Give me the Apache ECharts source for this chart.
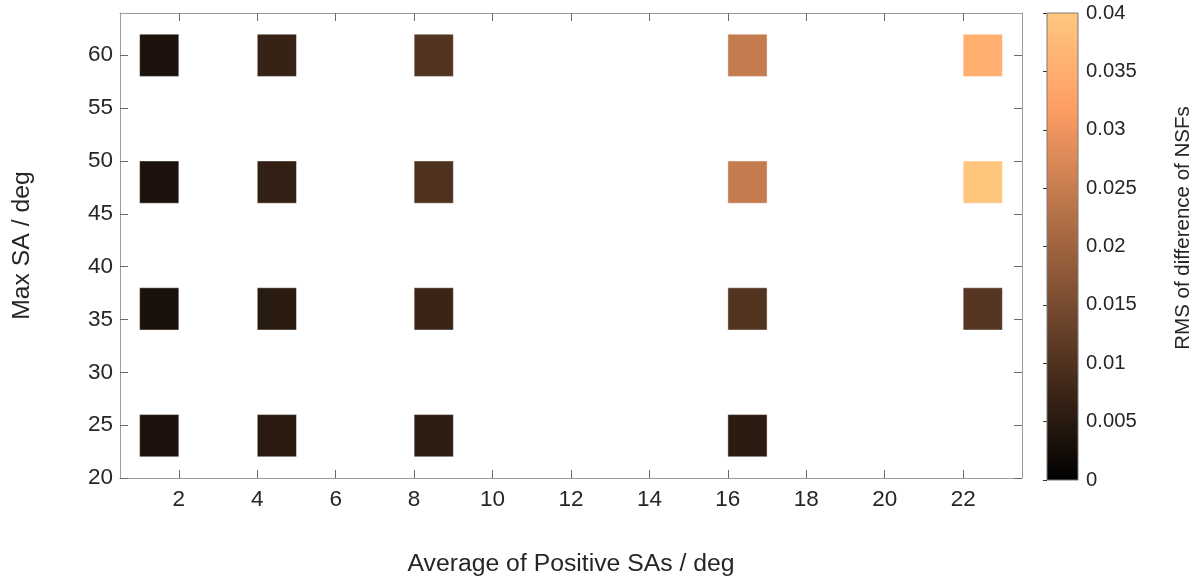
<!DOCTYPE html>
<html>
<head>
<meta charset="utf-8">
<title>RMS of difference of NSFs</title>
<script src="https://cdn.jsdelivr.net/npm/echarts@6/dist/echarts.min.js"></script>
<style>
  html, body { margin: 0; padding: 0; background: #ffffff; }
  #chart { width: 1197px; height: 582px; }
</style>
</head>
<body>
<div id="chart"></div>
<script>
// Average of positive SAs (left edge of each cell, deg)
const avgPositiveSA = [1, 4, 8, 16, 22];
// Max SA (centre of each cell, deg)
const maxSA = [24, 36, 48, 60];

// RMS of difference of NSFs, one row per Max SA value (null = no run)
const rmsAt24 = [0.0035, 0.0052, 0.0058, 0.0055, null];
const rmsAt36 = [0.0034, 0.0053, 0.0072, 0.0104, 0.0107];
const rmsAt48 = [0.0035, 0.0064, 0.0098, 0.0246, 0.0395];
const rmsAt60 = [0.0035, 0.0069, 0.0103, 0.0246, 0.0352];
const rmsRows = [rmsAt24, rmsAt36, rmsAt48, rmsAt60];

// Tick labels
const xTicks = [2, 4, 6, 8, 10, 12, 14, 16, 18, 20, 22];
const yTicks = [20, 25, 30, 35, 40, 45, 50, 55, 60];

// Copper colour map, evenly spaced stops from 0 to 1
const copperMap = ['#000000', '#402819', '#805033', '#BF784C', '#FF9F65', '#FFC77F'];
const colorMin = 0, colorMax = 0.04, colorStep = 0.005;

const cells = [];
maxSA.forEach((y, j) => {
  avgPositiveSA.forEach((x, i) => {
    const v = rmsRows[j][i];
    if (v !== null) cells.push([x, y, v]);
  });
});

const FONT = '"Liberation Sans", Arial, Helvetica, sans-serif';
const TEXT = '#262626';
const AXIS = '#9c9c9c';
const TICK = '#6a6a6a';

const chart = echarts.init(document.getElementById('chart'), null, { renderer: 'canvas' });

const cellWidth = 1;   // along x, deg
const cellHeight = 4;  // along y, deg

function renderCell(params, api) {
  const x = api.value(0), y = api.value(1);
  const a = api.coord([x, y - cellHeight / 2]);
  const b = api.coord([x + cellWidth, y + cellHeight / 2]);
  return {
    type: 'rect',
    shape: { x: a[0], y: b[1], width: b[0] - a[0], height: a[1] - b[1] },
    style: {
      fill: api.visual('color'),
      stroke: 'rgba(255,255,255,0.45)',
      lineWidth: 1
    }
  };
}

function renderColorbar(params, api) {
  const a = api.coord([0, colorMin]);
  const b = api.coord([1, colorMax]);
  return {
    type: 'rect',
    shape: { x: a[0], y: b[1], width: b[0] - a[0], height: a[1] - b[1] },
    style: {
      fill: {
        type: 'linear', x: 0, y: 1, x2: 0, y2: 0,
        colorStops: copperMap.map((c, i) => ({ offset: i / (copperMap.length - 1), color: c }))
      },
      stroke: '#7a7a7a',
      lineWidth: 1
    }
  };
}

const tickLabelStyle = { color: TEXT, fontFamily: FONT, fontSize: 22.5 };

chart.setOption({
  animation: false,
  backgroundColor: '#ffffff',
  grid: [
    { left: 120, top: 13, width: 902, height: 467, containLabel: false },
    { left: 1047, top: 13, width: 31, height: 467, containLabel: false }
  ],
  xAxis: [
    {
      type: 'value', gridIndex: 0, position: 'bottom', min: 0.5, max: 23.5,
      name: 'Average of Positive SAs / deg', nameLocation: 'middle', nameGap: 74,
      nameTextStyle: { color: TEXT, fontFamily: FONT, fontSize: 24.75 },
      axisLine: { show: true, onZero: false, lineStyle: { color: AXIS, width: 1 } },
      axisTick: { show: true, inside: true, length: 8, customValues: xTicks, lineStyle: { color: TICK } },
      axisLabel: Object.assign({ margin: 10, customValues: xTicks }, tickLabelStyle),
      splitLine: { show: false }
    },
    {
      type: 'value', gridIndex: 0, position: 'top', min: 0.5, max: 23.5,
      axisLine: { show: true, onZero: false, lineStyle: { color: AXIS, width: 1 } },
      axisTick: { show: true, inside: true, length: 8, customValues: xTicks, lineStyle: { color: TICK } },
      axisLabel: { show: false },
      splitLine: { show: false }
    },
    { type: 'value', gridIndex: 1, min: 0, max: 1, show: false }
  ],
  yAxis: [
    {
      type: 'value', gridIndex: 0, position: 'left', min: 20, max: 64,
      name: 'Max SA / deg', nameLocation: 'middle', nameGap: 85,
      nameTextStyle: { color: TEXT, fontFamily: FONT, fontSize: 24.75 },
      axisLine: { show: true, onZero: false, lineStyle: { color: AXIS, width: 1 } },
      axisTick: { show: true, inside: true, length: 8, customValues: yTicks, lineStyle: { color: TICK } },
      axisLabel: Object.assign({ margin: 7, customValues: yTicks }, tickLabelStyle),
      splitLine: { show: false }
    },
    {
      type: 'value', gridIndex: 0, position: 'right', min: 20, max: 64,
      axisLine: { show: true, onZero: false, lineStyle: { color: AXIS, width: 1 } },
      axisTick: { show: true, inside: true, length: 8, customValues: yTicks, lineStyle: { color: TICK } },
      axisLabel: { show: false },
      splitLine: { show: false }
    },
    {
      type: 'value', gridIndex: 1, position: 'right', min: colorMin, max: colorMax, interval: colorStep,
      axisLine: { show: false },
      axisTick: { show: true, inside: true, length: 4, lineStyle: { color: '#333333' } },
      axisLabel: { margin: 8, color: TEXT, fontFamily: FONT, fontSize: 20.25 },
      splitLine: { show: false }
    }
  ],
  visualMap: {
    type: 'continuous', show: false, seriesIndex: 0, dimension: 2,
    min: colorMin, max: colorMax, inRange: { color: copperMap }
  },
  graphic: [
    {
      type: 'text', x: 1183, y: 228, rotation: Math.PI / 2,
      style: {
        text: 'RMS of difference of NSFs', fill: TEXT, font: '20.5px ' + FONT,
        textAlign: 'center', textVerticalAlign: 'middle'
      }
    }
  ],
  series: [
    {
      type: 'custom', name: 'RMS', xAxisIndex: 0, yAxisIndex: 0,
      renderItem: renderCell, data: cells, clip: true
    },
    {
      type: 'custom', name: 'colorbar', xAxisIndex: 2, yAxisIndex: 2,
      renderItem: renderColorbar, data: [[0, colorMin]], silent: true
    }
  ]
});
</script>
</body>
</html>
